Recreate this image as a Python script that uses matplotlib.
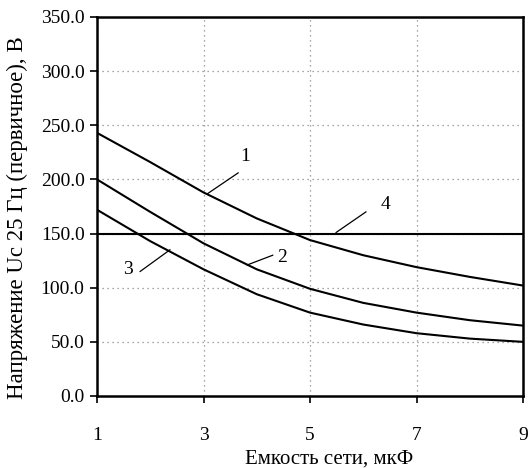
import numpy as np
import matplotlib.pyplot as plt

# Напряжение 25 Гц в зависимости от емкости сети
capacitance = [1, 2, 3, 4, 5, 6, 7, 8, 9]
curve_1 = [243, 216, 188, 164, 144, 130, 119, 110, 102]
curve_2 = [200, 170, 141, 117, 99, 86, 77, 70, 65]
curve_3 = [172, 143, 117, 94, 77, 66, 58, 53, 50]
level_4 = 150.0

x_ticks = [1, 3, 5, 7, 9]
y_ticks = [0, 50, 100, 150, 200, 250, 300, 350]

plt.rcParams['font.family'] = ['Liberation Serif', 'DejaVu Serif']

fig = plt.figure(figsize=(5.31, 4.68), dpi=100)
ax = fig.add_axes([97 / 531, 72 / 468, 426 / 531, 379 / 468])

for ys in (curve_1, curve_2, curve_3):
    ax.plot(capacitance, ys, color='black', lw=1.5)
ax.axhline(level_4, color='black', lw=1.5)

ax.set_xlim(1, 9)
ax.set_ylim(0, 350)
ax.set_xticks(x_ticks)
ax.set_yticks(y_ticks)
ax.set_yticklabels([f"{v:.1f}" for v in y_ticks])
ax.grid(True, color='#888888', linestyle=(0, (1, 3)), lw=0.9)

for s in ax.spines.values():
    s.set_linewidth(1.8)
ax.tick_params(axis='x', direction='out', length=5, width=1.2, pad=17, labelsize=14)
ax.tick_params(axis='y', direction='out', length=5, width=1.2, pad=4, labelsize=14)

ax.set_xlabel('Емкость сети, мкФ', fontsize=15)
ax.xaxis.set_label_coords(0.545, -0.14)
ax.set_ylabel('Напряжение Uc 25 Гц (первичное), В', fontsize=16.5)
ax.yaxis.set_label_coords(-0.163, 0.47)

# подписи кривых с выносками
labels = [
    ('1', (3.78, 221), (3.65, 206), (3.08, 187)),
    ('2', (4.47, 128), (4.30, 130), (3.82, 121)),
    ('3', (1.58, 117), (1.81, 115), (2.37, 135)),
    ('4', (6.41, 177), (6.05, 170), (5.49, 151)),
]
for txt, pos, a, b in labels:
    ax.text(pos[0], pos[1], txt, fontsize=14, ha='center', va='center')
    ax.plot([a[0], b[0]], [a[1], b[1]], color='black', lw=0.9)

fig.savefig('out.png', dpi=100)
